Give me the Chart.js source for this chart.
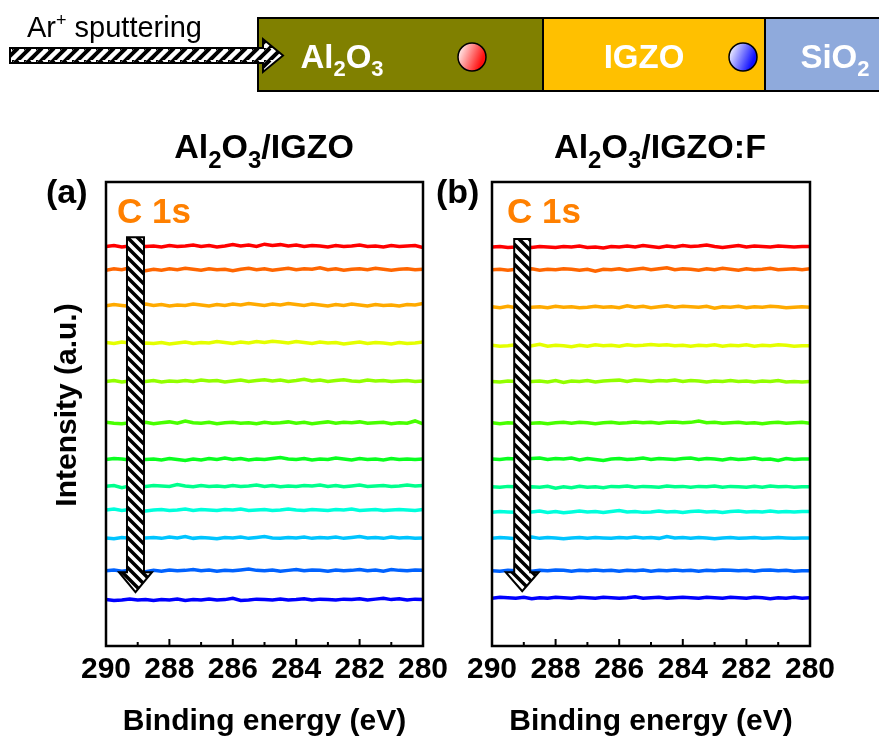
<!DOCTYPE html>
<html>
<head>
<meta charset="utf-8">
<script src="https://cdn.jsdelivr.net/npm/chart.js@4/dist/chart.umd.min.js"></script>
<style>
  html, body { margin: 0; padding: 0; background: #fff; }
  #wrap { position: relative; width: 879px; height: 740px; overflow: hidden; }
  canvas { position: absolute; top: 0; }
  #chartA { left: 0; }
  #chartB { left: 400px; }
  #overlay { position: absolute; left: 0; top: 0; pointer-events: none; }
  text { font-family: "Liberation Sans", Arial, sans-serif; }
</style>
</head>
<body>
<div id="wrap">
  <canvas id="chartA" width="470" height="740"></canvas>
  <canvas id="chartB" width="479" height="740"></canvas>
  <svg id="overlay" width="879" height="740" xmlns="http://www.w3.org/2000/svg">
    <defs>
      <pattern id="hatchH" width="12" height="12" patternUnits="userSpaceOnUse">
        <rect width="12" height="12" fill="#fff"/>
        <path d="M-6,12 L6,0 M0,18 L18,0 M6,12 L18,0 M-6,6 L6,-6" stroke="#000" stroke-width="4"/>
      </pattern>
      <linearGradient id="redBall" x1="0" y1="0.3" x2="1" y2="0.7">
        <stop offset="0" stop-color="#fff2f2"/>
        <stop offset="0.85" stop-color="#ff1010"/>
      </linearGradient>
      <linearGradient id="blueBall" x1="0" y1="0.3" x2="1" y2="0.7">
        <stop offset="0" stop-color="#f4f4ff"/>
        <stop offset="0.85" stop-color="#1010ff"/>
      </linearGradient>
    </defs>

    <!-- layer stack -->
    <rect x="258" y="18" width="285" height="73" fill="#808000" stroke="#000" stroke-width="2"/>
    <rect x="543" y="18" width="222" height="73" fill="#ffc000" stroke="#000" stroke-width="2"/>
    <rect x="765" y="18" width="130" height="73" fill="#8faadc" stroke="#000" stroke-width="2"/>
    <polygon points="10,48 263,48 263,39 283,55.5 263,72 263,63 10,63" fill="url(#hatchH)" stroke="#000" stroke-width="2"/>
    <text x="27" y="37" font-size="29" fill="#000">Ar<tspan font-size="18" dy="-11">+</tspan><tspan dy="11"> sputtering</tspan></text>

    <text x="342" y="68" font-size="33" font-weight="bold" fill="#fff" text-anchor="middle">Al<tspan font-size="22" dy="8">2</tspan><tspan dy="-8">O</tspan><tspan font-size="22" dy="8">3</tspan></text>
    <text x="644" y="68" font-size="33" font-weight="bold" fill="#fff" text-anchor="middle">IGZO</text>
    <text x="835" y="68" font-size="33" font-weight="bold" fill="#fff" text-anchor="middle">SiO<tspan font-size="22" dy="8">2</tspan></text>
    <circle cx="472" cy="57" r="14" fill="url(#redBall)" stroke="#000" stroke-width="1.5"/>
    <circle cx="743" cy="57" r="14" fill="url(#blueBall)" stroke="#000" stroke-width="1.5"/>

    <!-- panel headings -->
    <text x="264" y="158" font-size="34" font-weight="bold" text-anchor="middle">Al<tspan font-size="24" dy="10">2</tspan><tspan dy="-10">O</tspan><tspan font-size="24" dy="10">3</tspan><tspan dy="-10">/IGZO</tspan></text>
    <text x="660" y="158" font-size="34" font-weight="bold" text-anchor="middle">Al<tspan font-size="24" dy="10">2</tspan><tspan dy="-10">O</tspan><tspan font-size="24" dy="10">3</tspan><tspan dy="-10">/IGZO:F</tspan></text>
    <text x="46" y="203" font-size="34" font-weight="bold">(a)</text>
    <text x="436" y="203" font-size="34" font-weight="bold">(b)</text>
    <text x="117" y="223" font-size="35" font-weight="bold" fill="#ff8000">C 1s</text>
    <text x="507" y="223" font-size="35" font-weight="bold" fill="#ff8000">C 1s</text>
    <text transform="translate(76,405) rotate(-90)" font-size="30" font-weight="bold" text-anchor="middle">Intensity (a.u.)</text>
  </svg>
</div>

<script>
// binding energy (eV), same grid for every spectrum
const energies = [290, 289.75, 289.5, 289.25, 289, 288.75, 288.5, 288.25, 288, 287.75,
  287.5, 287.25, 287, 286.75, 286.5, 286.25, 286, 285.75, 285.5, 285.25,
  285, 284.75, 284.5, 284.25, 284, 283.75, 283.5, 283.25, 283, 282.75,
  282.5, 282.25, 282, 281.75, 281.5, 281.25, 281, 280.75, 280.5, 280.25, 280];

const minorTicks = [289, 287, 285, 283, 281];

// top (surface) to bottom (deepest sputter step)
const lineColors = ["#ff0000", "#ff6600", "#ffaa00", "#e4ff00", "#92ff00", "#48ff00",
  "#0aff20", "#00ff8c", "#00ffdc", "#00c4ff", "#0062ff", "#0000ff"];

// (a) Al2O3/IGZO, C 1s, offset spectra
const specA = [
  [86.1, 86.3, 86.0, 86.2, 86.4, 86.1, 86.2, 86.0, 86.3, 86.1, 86.2, 86.4, 86.1, 86.3, 86.0, 86.2, 86.5, 86.2, 86.4, 86.1, 86.6, 86.3, 86.5, 86.2, 86.4, 86.1, 86.3, 86.2, 86.0, 86.3, 86.1, 86.2, 86.4, 86.1, 86.2, 86.0, 86.3, 86.1, 86.2, 86.3, 85.9],
  [81.0, 81.3, 81.1, 81.5, 81.2, 80.9, 81.2, 81.0, 81.3, 81.1, 81.4, 81.2, 81.0, 81.3, 81.1, 81.2, 80.9, 81.2, 81.4, 81.1, 81.3, 81.0, 81.2, 81.4, 81.1, 81.3, 81.2, 81.5, 81.1, 81.3, 81.0, 81.2, 81.3, 81.1, 81.4, 81.2, 81.0, 81.2, 81.3, 81.1, 81.2],
  [73.3, 73.6, 73.4, 73.2, 73.5, 73.7, 73.4, 73.6, 73.3, 73.5, 73.4, 73.7, 73.5, 73.3, 73.6, 73.4, 73.7, 73.5, 73.8, 73.6, 73.4, 73.7, 73.5, 73.8, 73.6, 73.4, 73.7, 73.5, 73.3, 73.6, 73.4, 73.7, 73.5, 73.3, 73.6, 73.4, 73.5, 73.3, 73.6, 73.5, 73.8],
  [65.4, 65.2, 65.5, 65.3, 65.1, 65.3, 65.2, 65.4, 65.1, 65.3, 65.5, 65.2, 65.4, 65.3, 65.6, 65.4, 65.2, 65.5, 65.3, 65.6, 65.4, 65.7, 65.5, 65.3, 65.6, 65.4, 65.2, 65.5, 65.3, 65.4, 65.1, 65.3, 65.5, 65.2, 65.4, 65.3, 65.1, 65.4, 65.2, 65.3, 65.5],
  [57.0, 57.2, 56.9, 57.1, 57.3, 57.0, 57.2, 56.9, 57.1, 57.0, 57.2, 57.0, 57.3, 57.1, 57.2, 56.9, 57.1, 57.3, 57.0, 57.2, 57.4, 57.1, 57.3, 57.0, 57.2, 57.5, 57.1, 57.3, 57.0, 57.2, 57.4, 57.1, 57.0, 57.3, 57.1, 57.2, 57.0, 57.1, 57.2, 57.0, 57.1],
  [48.2, 48.0, 47.9, 48.1, 48.0, 48.2, 47.9, 48.1, 48.3, 48.0, 48.5, 48.1, 48.0, 48.2, 47.9, 48.1, 48.2, 48.0, 48.1, 47.9, 48.2, 48.0, 48.1, 48.3, 48.0, 48.2, 47.9, 48.1, 48.3, 48.0, 48.2, 48.1, 48.3, 48.0, 48.1, 48.2, 47.9, 48.1, 48.0, 48.5, 47.9],
  [40.2, 40.4, 40.3, 40.1, 40.4, 40.2, 40.3, 40.1, 40.4, 40.2, 40.0, 40.3, 40.1, 40.4, 40.2, 40.5, 40.2, 40.4, 40.1, 40.3, 40.2, 40.4, 40.6, 40.3, 40.2, 40.4, 40.1, 40.3, 40.2, 40.5, 40.3, 40.1, 40.4, 40.2, 40.3, 40.1, 40.4, 40.2, 40.3, 40.2, 40.3],
  [34.4, 34.6, 34.1, 34.5, 34.7, 34.4, 34.6, 34.5, 34.4, 34.8, 34.5, 34.3, 34.6, 34.4, 34.5, 34.3, 34.6, 34.4, 34.5, 34.7, 34.4, 34.6, 34.3, 34.5, 34.4, 34.6, 34.5, 34.7, 34.4, 34.6, 34.3, 34.5, 34.7, 34.4, 34.5, 34.6, 34.4, 34.5, 34.7, 34.5, 34.6],
  [29.3, 29.5, 29.2, 29.4, 29.3, 29.1, 29.3, 29.4, 29.2, 29.3, 29.5, 29.2, 29.4, 29.3, 29.2, 29.4, 29.3, 29.5, 29.2, 29.3, 29.4, 29.2, 29.3, 29.5, 29.3, 29.2, 29.4, 29.3, 29.2, 29.4, 29.3, 29.5, 29.2, 29.3, 29.4, 29.2, 29.3, 29.4, 29.3, 29.2, 29.4],
  [23.3, 23.1, 23.4, 23.2, 23.5, 23.3, 23.4, 23.2, 23.5, 23.3, 23.6, 23.2, 23.4, 23.3, 23.1, 23.4, 23.3, 23.5, 23.2, 23.4, 23.6, 23.3, 23.2, 23.4, 23.3, 23.5, 23.2, 23.4, 23.3, 23.5, 23.2, 23.4, 23.6, 23.3, 23.4, 23.2, 23.5, 23.3, 23.4, 23.2, 23.3],
  [16.2, 16.4, 16.1, 16.3, 16.2, 16.0, 16.3, 16.1, 16.4, 16.2, 16.3, 16.5, 16.2, 16.4, 16.1, 16.3, 16.2, 16.4, 16.6, 16.3, 16.2, 16.4, 16.1, 16.3, 16.5, 16.2, 16.4, 16.3, 16.1, 16.4, 16.2, 16.3, 16.5, 16.2, 16.4, 16.1, 16.5, 16.3, 16.2, 16.4, 16.3],
  [10.0, 9.8, 9.9, 10.1, 9.9, 10.0, 9.8, 10.0, 9.9, 10.1, 9.8, 10.0, 9.9, 10.1, 9.9, 10.0, 10.3, 9.8, 9.9, 10.1, 10.0, 9.9, 10.1, 9.9, 10.0, 10.2, 9.9, 10.1, 10.0, 9.9, 10.1, 10.0, 10.2, 9.9, 10.1, 10.3, 10.0, 10.2, 9.9, 10.1, 10.0],
];

// (b) Al2O3/IGZO:F
const specB = [
  [86.0, 86.1, 85.9, 86.0, 86.2, 85.9, 86.1, 86.0, 85.9, 86.1, 86.0, 86.2, 85.9, 86.0, 85.8, 86.1, 86.0, 86.2, 86.0, 86.3, 86.1, 85.9, 86.2, 86.0, 86.3, 86.1, 86.2, 86.4, 86.1, 85.9, 86.1, 86.3, 86.0, 86.2, 86.1, 86.0, 86.2, 86.1, 86.0, 86.1, 86.1],
  [81.1, 81.2, 81.0, 81.2, 81.1, 81.3, 81.0, 81.2, 81.1, 81.3, 81.2, 81.0, 81.2, 80.8, 81.2, 81.1, 81.3, 81.0, 81.2, 81.4, 81.1, 81.3, 81.5, 81.1, 81.3, 81.2, 81.0, 81.3, 81.1, 81.4, 81.2, 81.0, 81.3, 81.1, 81.2, 81.4, 81.1, 81.2, 81.3, 81.1, 81.3],
  [73.1, 72.9, 73.2, 72.9, 72.8, 73.0, 73.1, 72.9, 73.2, 73.0, 73.1, 72.9, 73.0, 73.2, 73.0, 73.1, 72.9, 73.3, 73.0, 73.2, 72.9, 73.1, 73.3, 73.0, 73.2, 73.1, 73.0, 73.2, 72.8, 73.1, 73.0, 73.2, 72.9, 73.1, 73.0, 73.2, 73.1, 72.9, 73.0, 73.1, 73.0],
  [64.8, 64.6, 64.7, 64.9, 64.5, 64.7, 65.0, 64.6, 64.8, 64.7, 64.5, 64.8, 64.6, 64.9, 64.7, 64.8, 64.6, 64.9, 64.7, 64.8, 65.0, 64.8, 64.9, 64.7, 64.8, 64.6, 64.8, 64.7, 64.9, 64.6, 64.8, 64.7, 64.9, 64.6, 64.8, 64.7, 64.9, 64.8, 64.6, 64.7, 64.7],
  [57.0, 56.9, 57.1, 57.0, 56.8, 57.0, 57.1, 56.9, 57.2, 56.8, 57.1, 57.0, 57.2, 56.9, 57.1, 57.2, 57.3, 57.0, 57.3, 57.2, 57.0, 57.2, 57.1, 57.3, 57.0, 57.2, 57.1, 56.9, 57.1, 57.0, 57.2, 57.0, 57.1, 56.9, 57.1, 57.0, 57.2, 56.9, 57.0, 56.9, 57.0],
  [48.1, 47.9, 48.1, 48.0, 48.2, 48.0, 48.1, 47.9, 48.1, 48.2, 48.0, 48.2, 48.1, 47.9, 48.1, 48.2, 48.0, 48.1, 48.3, 48.1, 48.2, 48.0, 48.2, 48.3, 48.1, 48.2, 48.5, 48.1, 48.2, 48.0, 48.1, 48.2, 48.0, 48.1, 47.9, 48.1, 48.2, 48.0, 48.1, 48.2, 48.0],
  [40.3, 40.2, 40.4, 40.3, 40.2, 40.4, 40.5, 40.2, 40.4, 40.3, 40.5, 40.1, 40.4, 40.2, 40.0, 40.3, 40.4, 40.2, 40.3, 40.5, 40.2, 40.4, 40.3, 40.2, 40.4, 40.5, 40.2, 40.4, 40.3, 40.1, 40.4, 40.2, 40.3, 40.5, 40.2, 40.3, 40.0, 40.4, 40.2, 40.3, 40.3],
  [34.3, 34.2, 34.4, 34.3, 34.1, 34.3, 34.2, 34.4, 34.0, 34.3, 34.1, 34.4, 34.2, 34.3, 34.1, 34.4, 34.3, 34.5, 34.2, 34.4, 34.3, 34.2, 34.5, 34.3, 34.4, 34.2, 34.4, 34.3, 34.5, 34.2, 34.4, 34.3, 34.2, 34.4, 34.2, 34.5, 34.3, 34.4, 34.2, 34.3, 34.3],
  [28.8, 29.0, 28.9, 28.8, 29.0, 28.9, 29.1, 28.8, 29.0, 28.7, 28.9, 29.1, 28.9, 29.0, 28.8, 29.0, 29.2, 28.9, 29.0, 28.8, 28.9, 29.1, 28.9, 29.0, 28.8, 29.0, 29.1, 28.9, 29.0, 28.8, 29.0, 29.1, 28.9, 29.0, 28.9, 29.1, 28.9, 29.0, 28.9, 29.0, 29.0],
  [23.2, 23.4, 23.3, 23.1, 23.3, 23.5, 23.2, 23.4, 23.3, 23.1, 23.3, 23.4, 23.2, 23.4, 23.3, 23.2, 23.4, 23.3, 23.5, 23.3, 23.4, 23.2, 23.6, 23.3, 23.4, 23.2, 23.4, 23.3, 23.1, 23.3, 23.4, 23.2, 23.3, 23.4, 23.2, 23.3, 23.4, 23.3, 23.2, 23.3, 23.3],
  [16.2, 16.1, 16.3, 16.2, 16.4, 16.1, 16.3, 16.2, 16.4, 16.3, 16.1, 16.3, 16.2, 16.4, 16.2, 16.3, 16.1, 16.3, 16.2, 16.4, 16.1, 16.3, 16.2, 16.4, 16.2, 16.3, 16.1, 16.3, 16.2, 16.4, 16.3, 16.2, 16.3, 16.1, 16.3, 16.4, 16.2, 16.3, 16.1, 16.2, 16.2],
  [10.3, 10.5, 10.4, 10.3, 10.5, 10.2, 10.4, 10.3, 10.5, 10.4, 10.3, 10.5, 10.4, 10.3, 10.5, 10.4, 10.3, 10.4, 10.6, 10.3, 10.4, 10.5, 10.3, 10.4, 10.5, 10.4, 10.3, 10.5, 10.4, 10.3, 10.5, 10.4, 10.3, 10.5, 10.4, 10.2, 10.4, 10.3, 10.5, 10.3, 10.4],
];

const FONT = "'Liberation Sans', Arial, sans-serif";

function hatchPattern(ctx) {
  const c = document.createElement("canvas");
  c.width = 10;
  c.height = 10;
  const g = c.getContext("2d");
  g.fillStyle = "#fff";
  g.fillRect(0, 0, 10, 10);
  g.strokeStyle = "#000";
  g.lineWidth = 3.5;
  g.beginPath();
  g.moveTo(-5, -5); g.lineTo(15, 15);
  g.moveTo(-5, 5); g.lineTo(5, 15);
  g.moveTo(5, -5); g.lineTo(15, 5);
  g.stroke();
  return ctx.createPattern(c, "repeat");
}

// frame, inward ticks and the hatched "depth" arrow
const panelDecor = {
  id: "panelDecor",
  afterDatasetsDraw(chart, args, opts) {
    const { ctx, chartArea: a, scales: { x, y } } = chart;
    ctx.save();

    // arrow
    const cx = x.getPixelForValue(opts.arrowX);
    const top = y.getPixelForValue(opts.arrowTop);
    const base = y.getPixelForValue(opts.headBase);
    const tip = y.getPixelForValue(opts.tip);
    const sw = opts.shaftWidth / 2, hw = opts.headWidth / 2;
    ctx.beginPath();
    ctx.moveTo(cx - sw, top);
    ctx.lineTo(cx + sw, top);
    ctx.lineTo(cx + sw, base);
    ctx.lineTo(cx + hw, base);
    ctx.lineTo(cx, tip);
    ctx.lineTo(cx - hw, base);
    ctx.lineTo(cx - sw, base);
    ctx.closePath();
    ctx.fillStyle = hatchPattern(ctx);
    ctx.fill();
    ctx.lineWidth = 2;
    ctx.strokeStyle = "#000";
    ctx.lineJoin = "miter";
    ctx.stroke();

    // inward ticks on the bottom axis
    ctx.lineWidth = 2;
    ctx.beginPath();
    x.ticks.forEach((t) => {
      const px = x.getPixelForValue(t.value);
      ctx.moveTo(px, a.bottom);
      ctx.lineTo(px, a.bottom - 7);
    });
    minorTicks.forEach((v) => {
      const px = x.getPixelForValue(v);
      ctx.moveTo(px, a.bottom);
      ctx.lineTo(px, a.bottom - 4);
    });
    ctx.stroke();

    // frame
    ctx.lineWidth = 2.5;
    ctx.strokeRect(a.left, a.top, a.right - a.left, a.bottom - a.top);
    ctx.restore();
  },
};

function makeChart(id, spectra, pad, arrow) {
  return new Chart(document.getElementById(id), {
    type: "line",
    data: {
      datasets: spectra.map((vals, i) => ({
        data: vals.map((v, j) => ({ x: energies[j], y: v })),
        borderColor: lineColors[i],
        borderWidth: 3.5,
        pointRadius: 0,
        tension: 0,
        fill: false,
      })),
    },
    options: {
      responsive: false,
      animation: false,
      devicePixelRatio: 1,
      layout: { padding: { left: pad.left, right: pad.right, top: 182, bottom: 0 } },
      plugins: {
        legend: { display: false },
        tooltip: { enabled: false },
        panelDecor: arrow,
      },
      scales: {
        x: {
          type: "linear",
          min: 280,
          max: 290,
          reverse: true,
          grid: { display: false, drawTicks: false },
          border: { display: false },
          ticks: {
            stepSize: 2,
            padding: 6,
            color: "#000",
            maxRotation: 0,
            autoSkip: false,
            font: { family: FONT, size: 30, weight: "bold" },
          },
          title: {
            display: true,
            text: "Binding energy (eV)",
            color: "#000",
            font: { family: FONT, size: 30, weight: "bold" },
            padding: { top: 10, bottom: 0 },
          },
        },
        y: { display: false, min: 0, max: 100 },
      },
    },
    plugins: [panelDecor],
  });
}

makeChart("chartA", specA, { left: 106, right: 47 },
  { arrowX: 289.07, arrowTop: 88.1, headBase: 15.9, tip: 11.6, shaftWidth: 17, headWidth: 33 });
makeChart("chartB", specB, { left: 92, right: 69 },
  { arrowX: 289.05, arrowTop: 87.7, headBase: 15.9, tip: 11.8, shaftWidth: 16, headWidth: 33 });
</script>
</body>
</html>
